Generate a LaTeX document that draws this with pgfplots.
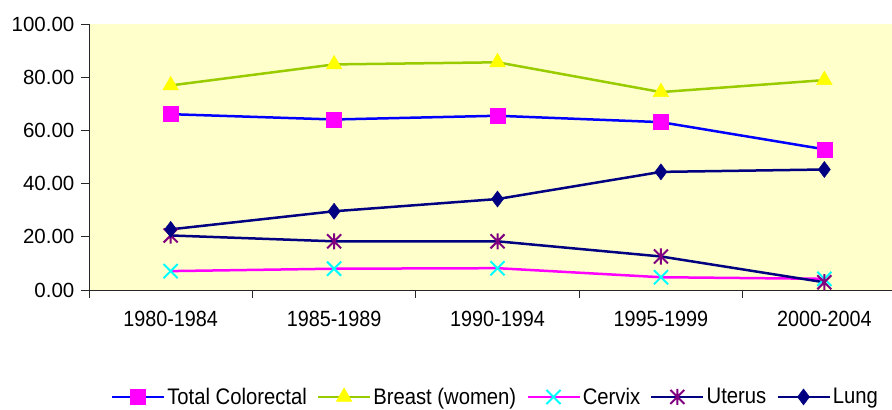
\documentclass[border=0pt]{standalone}
\usepackage{pgfplots}
\pgfplotsset{compat=1.18}
\usepackage{fontspec}
\setmainfont{Liberation Sans}
\newfontfamily\xfont{Liberation Sans}[FakeStretch=0.9]
\definecolor{plotbg}{HTML}{FFFFCC}
\definecolor{crline}{HTML}{0000FF}
\definecolor{crmark}{HTML}{FF00FF}
\definecolor{brline}{HTML}{99CC00}
\definecolor{brmark}{HTML}{FFFF00}
\definecolor{cvline}{HTML}{FF00FF}
\definecolor{cvmark}{HTML}{00FFFF}
\definecolor{navyc}{HTML}{000080}
\definecolor{purplec}{HTML}{800080}
\pgfdeclareplotmark{xstar}{%
  \pgfpathmoveto{\pgfqpoint{-\pgfplotmarksize}{-\pgfplotmarksize}}%
  \pgfpathlineto{\pgfqpoint{\pgfplotmarksize}{\pgfplotmarksize}}%
  \pgfpathmoveto{\pgfqpoint{-\pgfplotmarksize}{\pgfplotmarksize}}%
  \pgfpathlineto{\pgfqpoint{\pgfplotmarksize}{-\pgfplotmarksize}}%
  \pgfpathmoveto{\pgfqpoint{0pt}{-1.15\pgfplotmarksize}}%
  \pgfpathlineto{\pgfqpoint{0pt}{1.15\pgfplotmarksize}}%
  \pgfusepathqstroke}
\begin{document}
\begin{tikzpicture}
\begin{axis}[
  scale only axis, width=803pt, height=266pt,
  xmin=-0.5, xmax=4.414, ymin=0, ymax=100,
  axis lines*=left,
  axis line style={black!85, line width=0.8pt},
  axis background/.style={fill=plotbg},
  xtick={0,1,2,3,4},
  xticklabels={1980-1984,1985-1989,1990-1994,1995-1999,2000-2004},
  minor xtick={-0.5,0.5,1.5,2.5,3.5},
  ytick={0,20,40,60,80,100},
  tick align=outside,
  major tick length=8pt, minor tick length=8pt,
  major x tick style={draw=none},
  tick style={black!85, line width=0.8pt},
  /pgf/number format/assume math mode=true,
  yticklabel style={font=\fontsize{20.5}{23}\selectfont, xshift=-2pt, /pgf/number format/.cd, fixed, fixed zerofill, precision=2},
  xticklabel style={font=\xfont\fontsize{22}{25}\selectfont, yshift=-9pt},
  clip=false,
  line width=2.5pt,
  legend columns=-1,
  legend style={draw=none, fill=none, at={(0.506,-0.402)}, anchor=center,
    font=\xfont\fontsize{22.5}{25}\selectfont, nodes={inner sep=2pt},
    /tikz/every even column/.append style={column sep=8pt}},
  legend image code/.code={\draw[mark repeat=2,mark phase=2] plot coordinates {(0pt,0pt) (26pt,0pt) (52pt,0pt)};},
]
\addplot[color=crline, mark=square*, mark size=7.5pt, mark options={fill=crmark, draw=crmark, line width=0.5pt}]
  coordinates {(0,66.1) (1,64.1) (2,65.5) (3,63.1) (4,52.9)};
\addlegendentry{Total Colorectal}
\addplot[color=brline, mark=triangle*, mark size=9pt, mark options={fill=brmark, draw=brmark, line width=0.5pt}]
  coordinates {(0,76.9) (1,84.8) (2,85.6) (3,74.4) (4,78.9)};
\addlegendentry{Breast (women)}
\addplot[color=cvline, mark=x, mark size=10pt, mark options={draw=cvmark, line width=2pt}]
  coordinates {(0,7.1) (1,8.0) (2,8.2) (3,4.8) (4,4.2)};
\addlegendentry{Cervix}
\addplot[color=navyc, mark=xstar, mark size=7pt, mark options={draw=purplec, line width=2pt}]
  coordinates {(0,20.5) (1,18.3) (2,18.3) (3,12.6) (4,2.9)};
\addlegendentry{Uterus}
\addplot[color=navyc, mark=diamond*, mark size=8pt, mark options={fill=navyc, draw=navyc, line width=0.5pt}]
  coordinates {(0,22.8) (1,29.6) (2,34.2) (3,44.4) (4,45.3)};
\addlegendentry{Lung}
\coordinate (bl) at (rel axis cs:-0.1108,-0.4511);
\coordinate (tr) at (rel axis cs:1,1.0902);
\end{axis}
\pgfresetboundingbox
\path[use as bounding box] (bl) rectangle (tr);
\end{tikzpicture}
\end{document}
